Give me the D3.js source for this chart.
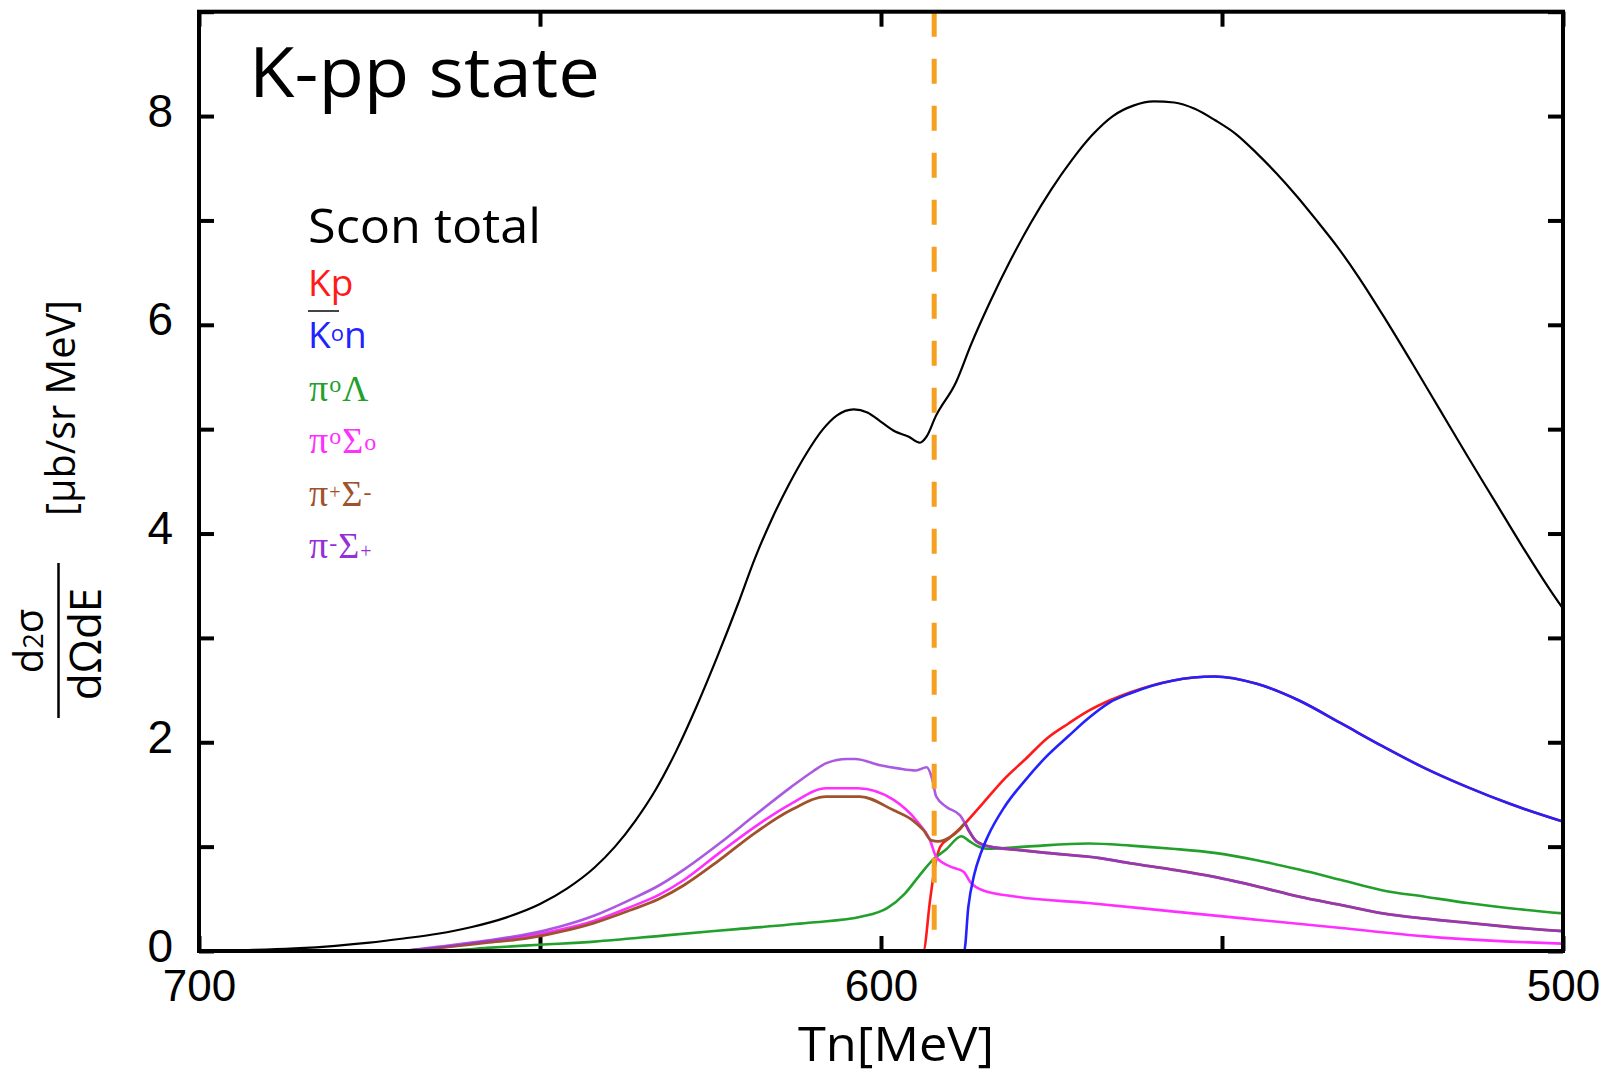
<!DOCTYPE html>
<html>
<head>
<meta charset="utf-8">
<script src="https://cdn.jsdelivr.net/npm/d3@7"></script>
<style>
body { margin: 0; background: #fff; }
</style>
</head>
<body>
<div id="chart"></div>
<script>
// values, [Tn (MeV), d2sigma/dOmega dE]
var xTicks = [700, 650, 600, 550, 500];
var xLabels = [700, 600, 500];
var yTicks = [0, 1, 2, 3, 4, 5, 6, 7, 8, 9];
var yLabels = [0, 2, 4, 6, 8];
var thresholdTn = 592.2;

var sconTotal = [[700,0.00],[692,0.01],[686,0.025],[680,0.05],[675,0.08],[670,0.12],[665,0.165],[660,0.23],
  [655,0.32],[650,0.45],[646,0.60],[642,0.80],[639,1.00],[636,1.25],[633,1.55],[630,1.92],[627,2.35],
  [624,2.82],[621,3.32],[618.5,3.76],[616,4.14],[613.5,4.47],[611,4.76],[608.5,5.00],[606.5,5.13],[604,5.19],
  [602,5.16],[600,5.07],[598,4.98],[596,4.93],[594.3,4.87],[593.3,4.93],[592,5.12],[589,5.45],[586.8,5.81],
  [584,6.22],[581,6.62],[578,6.98],[575,7.30],[572,7.58],[569,7.82],[566,8.00],[563,8.10],[560,8.14],
  [557,8.13],[554,8.07],[551,7.96],[548,7.83],[545,7.65],[542,7.45],[539,7.23],[536,6.99],[533,6.74],
  [530,6.46],[526,6.05],[522,5.62],[518,5.18],[514,4.74],[510,4.31],[506,3.88],[502,3.47],[500,3.28]];

var kp = [[670,0],[593.8,0],[592.8,0.49],[592.1,0.81],[591.3,1.0],[590,1.08],[588,1.20],[585,1.42],
  [581.9,1.65],[578.8,1.84],[575.8,2.03],[572.5,2.18],[569.6,2.30],[566.5,2.40],[563.4,2.48],[557.3,2.59],
  [551.1,2.63],[544.9,2.56],[538.7,2.40],[532.5,2.18],[526.4,1.96],[520.2,1.75],[514,1.57],[507.8,1.41],[500,1.24]];

var k0n = [[670,0],[587.8,0],[587.2,0.42],[586.3,0.74],[585.4,0.93],[584.4,1.09],[581.9,1.38],[578.8,1.64],
  [575.8,1.86],[572.5,2.06],[569.6,2.23],[566.5,2.38],[563.4,2.47],[557.3,2.59],[551.1,2.63],[544.9,2.56],
  [538.7,2.40],[532.5,2.18],[526.4,1.96],[520.2,1.75],[514,1.57],[507.8,1.41],[500,1.24]];

var pi0Lambda = [[670,0],[662,0.01],[657.8,0.03],[650,0.06],[642,0.09],[631.6,0.15],[621.1,0.21],[610.6,0.27],
  [602.8,0.33],[599.1,0.41],[596.5,0.55],[594.4,0.72],[592.3,0.88],[590.5,0.97],[588.2,1.10],[587,1.05],
  [586,1.01],[584.4,0.98],[578.8,1.0],[569.6,1.03],[563.4,1.01],[557.3,0.98],[551.1,0.94],[544.9,0.87],
  [538.7,0.78],[532.5,0.68],[526.4,0.58],[520.2,0.52],[514,0.46],[507.8,0.41],[500,0.36]];

var pi0Sigma0 = [[670,0],[665,0.03],[657.8,0.09],[652,0.14],[647.3,0.20],[642,0.29],[636.8,0.42],[632.5,0.54],
  [628.9,0.68],[623.7,0.94],[618.5,1.19],[613.2,1.41],[608,1.56],[603.4,1.56],[598.2,1.45],[594.8,1.25],
  [592.8,1.06],[591.9,0.90],[589.9,0.81],[587.9,0.76],[586.9,0.66],[585,0.58],[580.1,0.52],[569.6,0.46],
  [557.3,0.38],[544.9,0.30],[532.5,0.22],[520.2,0.14],[507.8,0.09],[500,0.07]];

var piPlusSigmaMinus = [[670,0],[665,0.03],[657.8,0.08],[652,0.12],[647.3,0.18],[642,0.27],[636.8,0.39],
  [632.5,0.50],[628.9,0.63],[623.7,0.87],[618.5,1.13],[613.2,1.35],[608,1.48],[603.1,1.48],[598.2,1.35],
  [595.3,1.25],[593.8,1.16],[592.6,1.06],[591.6,1.05],[589.9,1.09],[588.4,1.17],[587.7,1.22],[587.2,1.16],
  [586,1.05],[584,1.0],[580.1,0.97],[575.8,0.94],[567.9,0.89],[563.4,0.84],[557.3,0.78],[551.1,0.71],
  [544.9,0.62],[538.7,0.52],[532.5,0.44],[526.4,0.36],[520.2,0.31],[514,0.27],[507.8,0.23],[500,0.19]];

var piMinusSigmaPlus = [[670,0],[665,0.04],[657.8,0.10],[652,0.16],[647.3,0.23],[642,0.34],[636.8,0.49],
  [632.5,0.63],[628.9,0.78],[623.7,1.03],[618.5,1.30],[613.2,1.57],[610,1.72],[608,1.80],[605,1.84],
  [603.8,1.84],[600.1,1.78],[597.5,1.75],[594.9,1.73],[593.3,1.76],[592.5,1.65],[591.9,1.48],[590.4,1.38],
  [588.4,1.30],[587.4,1.19],[586,1.05],[584,1.0],[580.1,0.97],[575.8,0.94],[567.9,0.89],[563.4,0.84],
  [557.3,0.78],[551.1,0.71],[544.9,0.62],[538.7,0.52],[532.5,0.44],[526.4,0.36],[520.2,0.31],[514,0.27],
  [507.8,0.23],[500,0.19]];

var margin = {top: 11.7, right: 52, bottom: 125, left: 199},
    width = 1615 - margin.left - margin.right,
    height = 1076 - margin.top - margin.bottom;

var sans = "'Open Sans', sans-serif",
    serif = "'Liberation Serif', serif",
    tickFont = "'Liberation Sans', Arial, sans-serif";

var svg = d3.select("#chart")
  .append("svg")
  .attr("width", 1615)
  .attr("height", 1076);

var g = svg.append("g")
  .attr("transform", "translate(" + margin.left + "," + margin.top + ")");

var x = d3.scaleLinear().domain([700, 500]).range([0, width]);
var y = d3.scaleLinear().domain([0, 9]).range([height, 0]);

svg.append("defs").append("clipPath").attr("id", "plotclip")
  .append("rect").attr("width", width).attr("height", height);

// axes, ticks pointing inward on all four sides
function styleAxis(a) {
  a.select(".domain").remove();
  a.selectAll(".tick line").attr("stroke", "#000").attr("stroke-width", 4);
  a.selectAll("text").attr("font-family", tickFont).attr("font-size", 46).attr("fill", "#000");
}

g.append("g")
  .attr("transform", "translate(0," + height + ")")
  .call(d3.axisBottom(x).tickValues(xTicks).tickSize(-15).tickPadding(19)
    .tickFormat(function(d) { return xLabels.indexOf(d) >= 0 ? d : ""; }))
  .call(styleAxis)
  .selectAll("text").attr("font-size", 44);

g.append("g")
  .call(d3.axisTop(x).tickValues(xTicks).tickSize(-15).tickFormat(""))
  .call(styleAxis);

g.append("g")
  .call(d3.axisLeft(y).tickValues(yTicks).tickSize(-15).tickPadding(26)
    .tickFormat(function(d) { return yLabels.indexOf(d) >= 0 ? d : ""; }))
  .call(styleAxis)
  .selectAll("text").attr("dy", "0.22em");

g.append("g")
  .attr("transform", "translate(" + width + ",0)")
  .call(d3.axisRight(y).tickValues(yTicks).tickSize(-15).tickFormat(""))
  .call(styleAxis);

// curves
var line = d3.line()
  .x(function(d) { return x(d[0]); })
  .y(function(d) { return y(d[1]); })
  .curve(d3.curveMonotoneX);

var curves = g.append("g").attr("clip-path", "url(#plotclip)");

var series = [
  {data: sconTotal, color: "#000000", w: 2.2, op: 1},
  {data: kp, color: "#ff1a1a", w: 2.6, op: 1},
  {data: pi0Lambda, color: "#23a02c", w: 2.6, op: 1},
  {data: pi0Sigma0, color: "#ff30ff", w: 2.6, op: 1},
  {data: piPlusSigmaMinus, color: "#a0522d", w: 2.8, op: 1},
  {data: piMinusSigmaPlus, color: "#9530d8", w: 2.6, op: 0.8},
  {data: k0n, color: "#2222ff", w: 2.6, op: 1}
];

curves.selectAll("path")
  .data(series)
  .enter()
  .append("path")
  .attr("d", function(d) { return line(d.data); })
  .attr("fill", "none")
  .attr("stroke", function(d) { return d.color; })
  .attr("stroke-width", function(d) { return d.w; })
  .attr("stroke-opacity", function(d) { return d.op; })
  .attr("stroke-linejoin", "round");

// threshold
g.append("line")
  .attr("x1", x(thresholdTn)).attr("x2", x(thresholdTn))
  .attr("y1", y(9)).attr("y2", y(0))
  .attr("stroke", "#f5a020")
  .attr("stroke-width", 5)
  .attr("stroke-dasharray", "25,22");

// frame
g.append("rect")
  .attr("width", width).attr("height", height)
  .attr("fill", "none").attr("stroke", "#000").attr("stroke-width", 4);

// title
svg.append("text")
  .attr("x", 249).attr("y", 97)
  .attr("font-family", sans).attr("font-size", 70)
  .attr("textLength", 351).attr("lengthAdjust", "spacingAndGlyphs")
  .text("K-pp state");

// legend
var legendX = 308, legendY = 243, legendStep = 52.5;
svg.append("text")
  .attr("x", legendX).attr("y", legendY)
  .attr("font-family", sans).attr("font-size", 48)
  .attr("textLength", 233).attr("lengthAdjust", "spacingAndGlyphs")
  .text("Scon total");

var legendItems = [
  {color: "#ff1a1a", parts: [["Kp", sans, 37, 0]]},
  {color: "#2222ff", parts: [["K", sans, 37, 0], ["o", sans, 22, -7], ["n", sans, 37, 7]], bar: true},
  {color: "#23a02c", parts: [["π", serif, 38, 0], ["o", serif, 24, -9], ["Λ", serif, 36, 9]]},
  {color: "#ff30ff", parts: [["π", serif, 38, 0], ["o", serif, 24, -9], ["Σ", serif, 36, 9], ["o", serif, 24, -3]]},
  {color: "#a0522d", parts: [["π", serif, 38, 0], ["+", serif, 20, -7], ["Σ", serif, 36, 7], ["-", serif, 24, -6]]},
  {color: "#9530d8", parts: [["π", serif, 38, 0], ["-", serif, 24, -7], ["Σ", serif, 36, 7], ["+", serif, 20, 0]]}
];

legendItems.forEach(function(item, i) {
  var t = svg.append("text")
    .attr("x", legendX)
    .attr("y", legendY + (i + 1) * legendStep)
    .attr("fill", item.color);
  item.parts.forEach(function(p) {
    t.append("tspan")
      .attr("font-family", p[1])
      .attr("font-size", p[2])
      .attr("dy", p[3])
      .attr("dx", p[1] === serif ? 1 : 0)
      .text(p[0]);
  });
  if (item.bar) {
    var b = t.select("tspan").node().getBBox();
    svg.append("line")
      .attr("x1", b.x).attr("x2", b.x + b.width + 8)
      .attr("y1", b.y + 3).attr("y2", b.y + 3)
      .attr("stroke", "#444").attr("stroke-width", 2);
  }
});

// x axis title
svg.append("text")
  .attr("x", 896).attr("y", 1061)
  .attr("text-anchor", "middle")
  .attr("font-family", sans).attr("font-size", 47)
  .attr("textLength", 196).attr("lengthAdjust", "spacingAndGlyphs")
  .text("Tn[MeV]");

// y axis title: fraction and units, rotated
var num = svg.append("text")
  .attr("transform", "translate(43,641) rotate(-90)")
  .attr("text-anchor", "middle")
  .attr("font-family", sans);
num.append("tspan").attr("font-size", 40).text("d");
num.append("tspan").attr("font-size", 27).text("2");
num.append("tspan").attr("font-size", 40).text("σ");

svg.append("line")
  .attr("x1", 58.5).attr("x2", 58.5)
  .attr("y1", 563).attr("y2", 718)
  .attr("stroke", "#000").attr("stroke-width", 2.5);

svg.append("text")
  .attr("transform", "translate(101,644) rotate(-90)")
  .attr("text-anchor", "middle")
  .attr("font-family", sans).attr("font-size", 44)
  .text("dΩdE");

svg.append("text")
  .attr("transform", "translate(75,408) rotate(-90)")
  .attr("text-anchor", "middle")
  .attr("font-family", sans).attr("font-size", 40)
  .attr("textLength", 216).attr("lengthAdjust", "spacingAndGlyphs")
  .text("[μb/sr MeV]");
</script>
</body>
</html>
